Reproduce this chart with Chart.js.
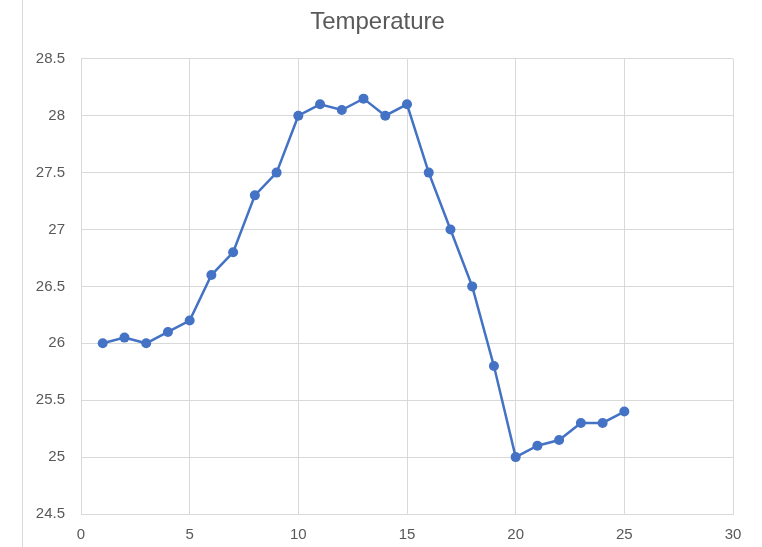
<!DOCTYPE html>
<html>
<head>
<meta charset="utf-8">
<script src="https://cdn.jsdelivr.net/npm/chart.js@4"></script>
<style>
   html, body { margin: 0; padding: 0; background: #fff; }
   #wrap { position: relative; width: 762px; height: 547px; }
   #edge { position: absolute; left: 22px; top: 0; width: 0; height: 547px; border-left: 1px solid #d9d9d9; }
</style>
</head>
<body>
<div id="wrap">
   <div id="edge"></div>
   <canvas id="tempChart" width="762" height="547"></canvas>
</div>
<script>
// Data
const xValues = [1, 2, 3, 4, 5, 6, 7, 8, 9, 10, 11, 12, 13, 14, 15, 16, 17, 18, 19, 20, 21, 22, 23, 24, 25];
const temperatures = [26, 26.05, 26, 26.1, 26.2, 26.6, 26.8, 27.3, 27.5, 28, 28.1, 28.05, 28.15, 28, 28.1,
   27.5, 27, 26.5, 25.8, 25, 25.1, 25.15, 25.3, 25.3, 25.4];
const xTicks = [0, 5, 10, 15, 20, 25, 30];
const yTicks = [24.5, 25, 25.5, 26, 26.5, 27, 27.5, 28, 28.5];

const points = xValues.map((x, i) => ({ x: x, y: temperatures[i] }));

const lineColor = '#4472c4';
const gridColor = '#d9d9d9';
const textColor = '#595959';

new Chart(document.getElementById('tempChart'), {
   type: 'scatter',
   data: {
      datasets: [{
         label: 'Temperature',
         data: points,
         showLine: true,
         borderColor: lineColor,
         backgroundColor: lineColor,
         borderWidth: 2.5,
         pointRadius: 5,
         pointBorderWidth: 0,
         tension: 0
      }]
   },
   options: {
      responsive: false,
      animation: false,
      layout: { padding: { left: 22, right: 29, top: 0, bottom: 0 } },
      plugins: {
         legend: { display: false },
         tooltip: { enabled: false },
         title: {
            display: true,
            text: 'Temperature',
            color: textColor,
            font: { family: 'Liberation Sans', size: 24, weight: 'normal', lineHeight: 1.2 },
            padding: { top: 8, bottom: 22 }
         }
      },
      scales: {
         x: {
            type: 'linear',
            min: 0, max: 30,
            afterBuildTicks: s => { s.ticks = xTicks.map(v => ({ value: v })); },
            afterFit: s => { s.height = 33; },
            grid: { color: gridColor, lineWidth: 1, drawTicks: false },
            border: { color: gridColor },
            ticks: { color: textColor, padding: 12, font: { family: 'Liberation Sans', size: 15 } }
         },
         y: {
            min: 24.5, max: 28.5,
            afterBuildTicks: s => { s.ticks = yTicks.map(v => ({ value: v })); },
            afterFit: s => { s.width = 59; },
            grid: { color: gridColor, lineWidth: 1, drawTicks: false },
            border: { color: gridColor },
            ticks: {
               color: textColor, padding: 16, font: { family: 'Liberation Sans', size: 15 },
               callback: v => String(v)
            }
         }
      }
   }
});
</script>
</body>
</html>
